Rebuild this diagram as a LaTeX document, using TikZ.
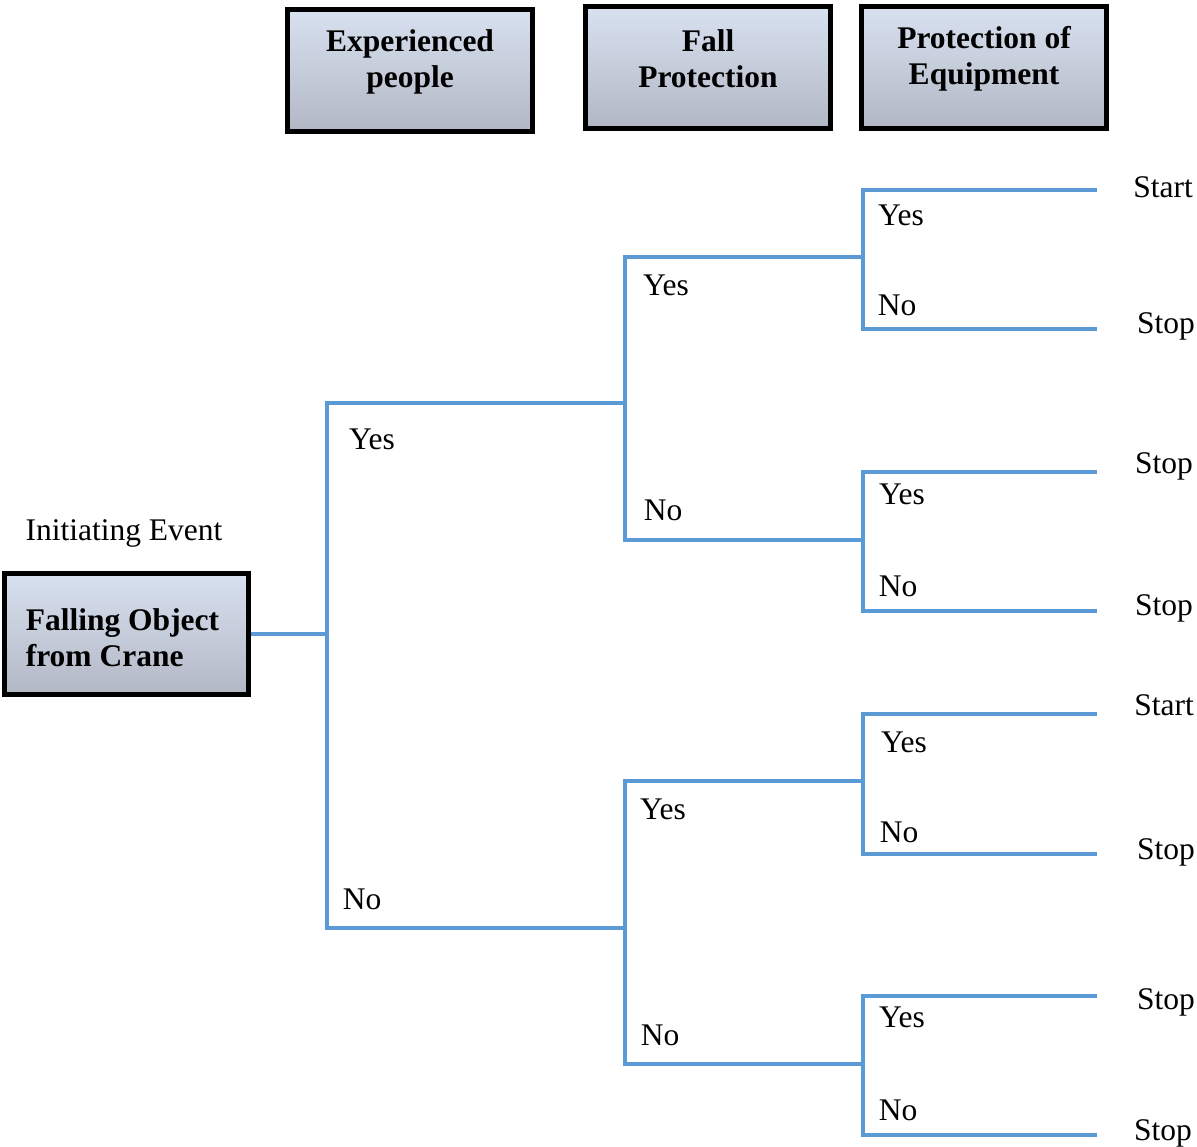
\documentclass[tikz,border=0pt]{standalone}
\usepackage{fontspec}
\setmainfont{Liberation Serif}
\definecolor{branch}{RGB}{91,155,213}
\definecolor{boxtop}{RGB}{216,225,240}
\definecolor{boxbot}{RGB}{178,183,196}
\tikzset{
  event/.style={draw=black, line width=2.5pt, top color=boxtop, bottom color=boxbot,
    minimum width=122.5pt, minimum height=61pt},
  head/.style={font=\fontsize{15.75}{18}\selectfont\bfseries, align=center},
  lbl/.style={font=\fontsize{15.75}{18}\selectfont, inner sep=0pt},
}
\begin{document}
\begin{tikzpicture}[x=0.5pt,y=-0.5pt]
      \useasboundingbox (0,0) rectangle (1197,1146);
      % headings
      \node[event, label={[head,yshift=4.5pt]center:Experienced\\people}] (exp) at (410,70.5) {};
      \node[event, label={[head,yshift=4.5pt]center:Fall\\Protection}] (fall) at (708,67.5) {};
      \node[event, label={[head,yshift=4.5pt]center:Protection of\\Equipment}] (prot) at (984,67.5) {};
      % initiating event
      \node[lbl] (init) at (124,533) {Initiating Event};
      \node[event, minimum width=122pt, minimum height=60.5pt,
        label={[head,align=left,xshift=-2pt,yshift=-2pt]center:Falling Object\\from Crane}] (crane) at (126.5,634) {};
      \draw
        (327,634) coordinate (r)
        (625,403) coordinate (a1)
        (625,928) coordinate (a2)
        (863,257) coordinate (b1)
        (863,540) coordinate (b2)
        (863,781) coordinate (b3)
        (863,1064) coordinate (b4)
        (1097,190) coordinate (c1)
        (1097,329) coordinate (c2)
        (1097,472) coordinate (c3)
        (1097,611) coordinate (c4)
        (1097,714) coordinate (c5)
        (1097,854) coordinate (c6)
        (1097,996) coordinate (c7)
        (1097,1135) coordinate (c8);
      \begin{scope}[draw=branch, line width=2pt]
        \draw (crane.east) -- (r);
        \draw (a1) -| (r) |- (a2);
        \draw (b1) -| (a1) |- (b2);
        \draw (b3) -| (a2) |- (b4);
        \draw (c1) -| (b1) |- (c2);
        \draw (c3) -| (b2) |- (c4);
        \draw (c5) -| (b3) |- (c6);
        \draw (c7) -| (b4) |- (c8);
      \end{scope}
      % yes / no
      \node[lbl] (y0) at (372,439) {Yes};
      \node[lbl] (n0) at (362,899) {No};
      \node[lbl] (y1) at (666,285) {Yes};
      \node[lbl] (n1) at (663,510) {No};
      \node[lbl] (y2) at (663,809) {Yes};
      \node[lbl] (n2) at (660,1035) {No};
      \node[lbl] (y11) at (901,215) {Yes};
      \node[lbl] (n11) at (897,305) {No};
      \node[lbl] (y12) at (902,494) {Yes};
      \node[lbl] (n12) at (898,586) {No};
      \node[lbl] (y21) at (904,742) {Yes};
      \node[lbl] (n21) at (899,832) {No};
      \node[lbl] (y22) at (902,1017) {Yes};
      \node[lbl] (n22) at (898,1110) {No};
      % outcomes
      \node[lbl] (o1) at (1163,187) {Start};
      \node[lbl] (o2) at (1166,326) {Stop};
      \node[lbl] (o3) at (1164,466) {Stop};
      \node[lbl] (o4) at (1164,608) {Stop};
      \node[lbl] (o5) at (1164,705) {Start};
      \node[lbl] (o6) at (1166,852) {Stop};
      \node[lbl] (o7) at (1166,1002) {Stop};
      \node[lbl] (o8) at (1163,1133) {Stop};
    \end{tikzpicture}
\end{document}
